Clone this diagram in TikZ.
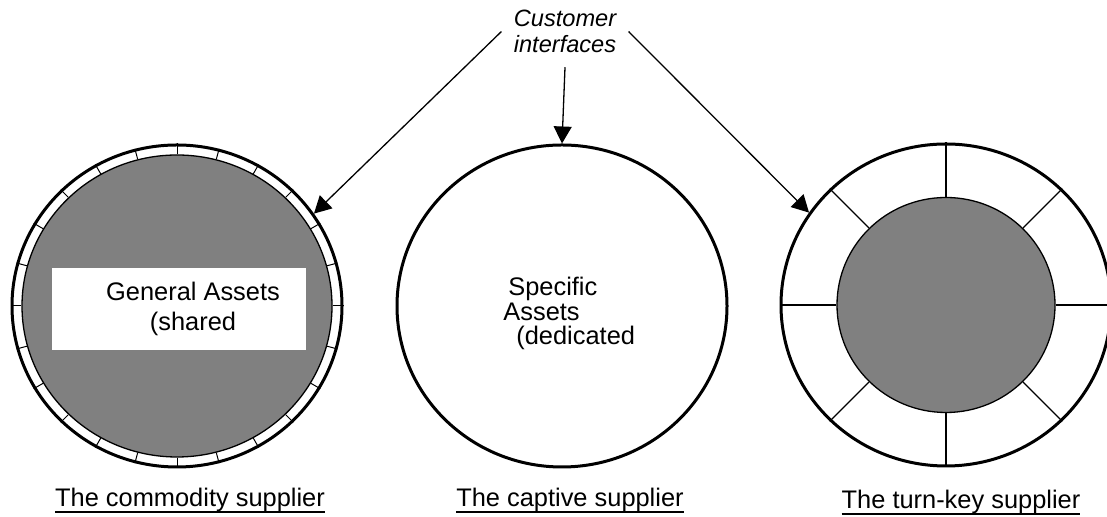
\documentclass[tikz,border=0pt]{standalone}
\usepackage{fontspec}
\setmainfont{Liberation Sans}
\usetikzlibrary{shapes.geometric, arrows.meta, positioning, calc}
\definecolor{AssetGray}{gray}{0.50}
\newsavebox{\captionbox}
\newcommand{\undertext}[1]{\sbox{\captionbox}{#1}\rlap{\rule[-3pt]{\wd\captionbox}{1pt}}\usebox{\captionbox}}

\begin{document}
\begin{tikzpicture}[
    % Global Styles
    x=0.5pt, y=0.5pt,
    font=\fontsize{12.7}{15}\selectfont,
    % Supplier rings
    supplier/.style={
        ellipse,
        draw=black,
        fill=white,
        line width=1.5pt,
        minimum width=165pt,
        minimum height=161pt,
        inner sep=0pt
    },
    core/.style={
        ellipse,
        draw=black,
        fill=AssetGray,
        line width=0.65pt,
        inner sep=0pt
    },
    assetbox/.style={
        rectangle,
        fill=white,
        align=center,
        minimum width=127pt,
        minimum height=41pt,
        inner sep=0pt
    },
    caption/.style={anchor=base},
    % Connector line style
    conn/.style={
        draw=black,
        -{Triangle[length=8.5pt,width=9pt]},
        line width=0.65pt
    },
    spoke/.style={draw=black, line width=0.65pt}
]
    \useasboundingbox (0,0) rectangle (1107,517);

    % --- Nodes ---

    % Customer interfaces
    \node[font=\fontsize{11.8}{13}\selectfont\itshape, align=center,
          inner xsep=6pt, inner ysep=7pt] (cust) at (565,485.5)
          {Customer\\interfaces};

    % 1. Commodity supplier
    \node[supplier] (commodity) at (177,211) {};
    \node[core, minimum width=155pt, minimum height=151pt] (commoditycore) at (177,211) {};
    \foreach \a in {0,15,...,345}
        \draw[line width=0.5pt] (commoditycore.\a) -- (commodity.\a);
    \node[assetbox] (general) at (179,208)
        {\hspace*{14pt}General Assets\\\hspace*{14pt}(shared};

    % 2. Captive supplier
    \node[supplier] (captive) at (562,211) {};
    \node[align=left, anchor=base west, inner sep=0pt,
          font=\fontsize{12.7}{12.3}\selectfont] (specific) at (503,172)
        {\hspace*{2.5pt}Specific\\Assets\\\hspace*{6.5pt}(dedicated};

    % 3. Turn-key supplier
    \node[supplier] (turnkey) at (946,212) {};
    \node[core, minimum width=109pt, minimum height=107.5pt] (turnkeycore) at (946,212) {};
    \foreach \a in {0,45,...,315}
        \draw[spoke] (turnkeycore.\a) -- (turnkey.\a);

    % --- Edges ---
    \draw[conn] (cust.west) -- (commodity.34);
    \draw[conn] (cust.south) -- (captive.north);
    \draw[conn] (cust.east) -- (turnkey.146);

    % --- Captions ---
    \node[caption] (commlabel) at (190,10) {\undertext{The commodity supplier}};
    \node[caption] (captlabel) at (570,10) {\undertext{The captive supplier}};
    \node[caption] (turnlabel) at (961,8) {\undertext{The turn-key supplier}};

\end{tikzpicture}
\end{document}
